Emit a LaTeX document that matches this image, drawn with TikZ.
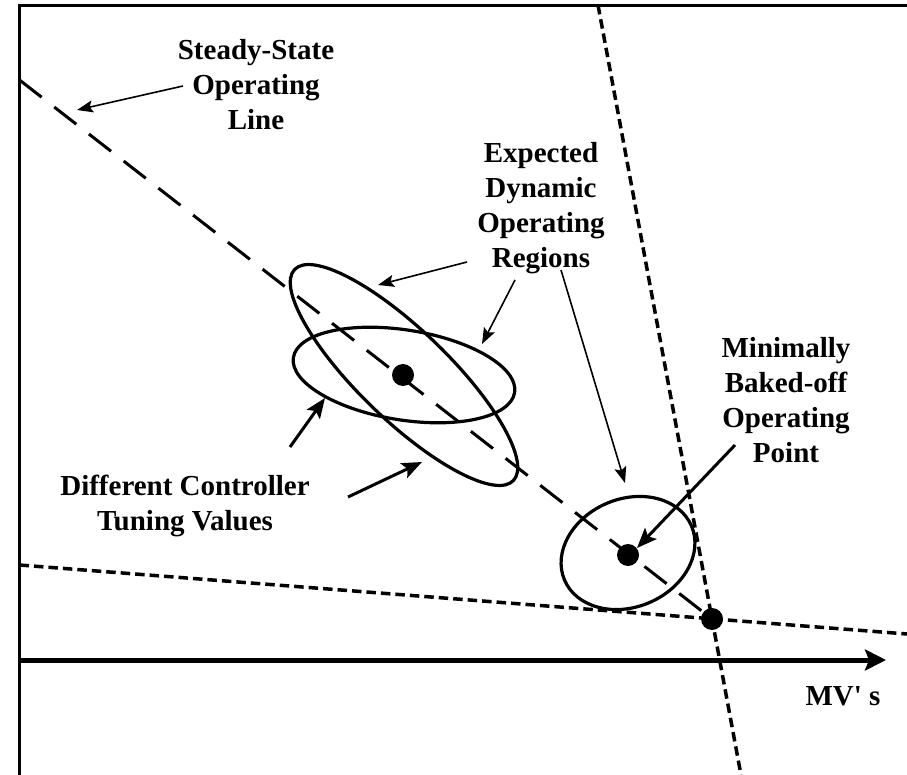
\documentclass[tikz,border=0pt]{standalone}
\usepackage{fontspec}
\newfontfamily\lbfont{Liberation Serif}
\usetikzlibrary{arrows.meta}
\begin{document}
\begin{tikzpicture}[x=1pt,y=-1pt,
  lbl/.style={font=\lbfont\bfseries\fontsize{29}{35}\selectfont, align=center, inner sep=0pt},
  frame/.style={line width=3pt},
  ssline/.style={line width=3pt, dash pattern=on 28pt off 16pt},
  cons/.style={line width=3.5pt, dash pattern=on 9.5pt off 5pt},
  reg/.style={line width=3.2pt},
  dot/.style={circle, fill=black, minimum size=22pt, inner sep=0pt},
  thinarrow/.style={line width=1.6pt, -{Stealth[length=16pt,width=12pt,inset=3pt]}},
  thickarrow/.style={line width=3pt, -{Stealth[length=20pt,width=16pt,inset=4pt]}},
  axisarrow/.style={line width=5pt, -{Stealth[length=21pt,width=21pt,inset=4pt]}}
]
\useasboundingbox (0,0) rectangle (907,775);
% frame
\coordinate (tl) at (19.5,6);
\coordinate (tr) at (907,6);
\coordinate (bl) at (19.5,775);
\draw[frame] (tr) -- (tl) -- (bl);
% axis
\coordinate (xo) at (19.5,660);
\coordinate (xe) at (886,660);
\draw[axisarrow] (xo) -- (xe);
% constraint lines
\coordinate (v0) at (598,5);
\coordinate (v1) at (741,775);
\coordinate (h0) at (19.5,565);
\coordinate (h1) at (907,634);
\draw[cons] (v0) -- (v1);
\draw[cons] (h0) -- (h1);
% steady-state line
\coordinate (s0) at (19.5,80);
\coordinate (sx) at (712,619);
\draw[ssline] (s0) -- (sx);
% ellipses
\coordinate (c1) at (404,375);
\coordinate (c3) at (628,553);
\draw[reg, rotate around={-44:(c1)}] (c1) ellipse [x radius=152pt, y radius=45pt];
\draw[reg, rotate around={-9:(c1)}] (c1) ellipse [x radius=112pt, y radius=45pt];
\draw[reg, rotate around={23:(c3)}] (c3) ellipse [x radius=69pt, y radius=54pt];
% dots
\node[dot] (p1) at (403,375) {};
\node[dot] (p2) at (628,555) {};
\node[dot] (p3) at (sx) {};
% labels
\node[lbl] (ss) at (256,85) {Steady-State\\Operating\\Line};
\node[lbl] (edr) at (541,208) {Expected\\Dynamic\\Operating\\Regions};
\node[lbl] (dct) at (185,506) {Different Controller\\Tuning Values};
\node[lbl] (mbo) at (786,400) {Minimally\\Baked-off\\Operating\\Point};
\node[lbl, anchor=base] (mv) at (843,705) {MV' s};
% arrows
\coordinate (a1s) at (183,86);  \coordinate (a1e) at (77,110);
\coordinate (a2s) at (467,262); \coordinate (a2e) at (378,285);
\coordinate (a3s) at (515,280); \coordinate (a3e) at (482,344);
\coordinate (a4s) at (561,270); \coordinate (a4e) at (625,483);
\coordinate (a5s) at (735,445); \coordinate (a5e) at (637,548);
\coordinate (a6s) at (290,447); \coordinate (a6e) at (325,398);
\coordinate (a7s) at (348,497); \coordinate (a7e) at (422,462);
\draw[thinarrow] (a1s) -- (a1e);
\draw[thinarrow] (a2s) -- (a2e);
\draw[thinarrow] (a3s) -- (a3e);
\draw[thinarrow] (a4s) -- (a4e);
\draw[thickarrow] (a5s) -- (a5e);
\draw[thickarrow] (a6s) -- (a6e);
\draw[thickarrow] (a7s) -- (a7e);
\end{tikzpicture}
\end{document}
